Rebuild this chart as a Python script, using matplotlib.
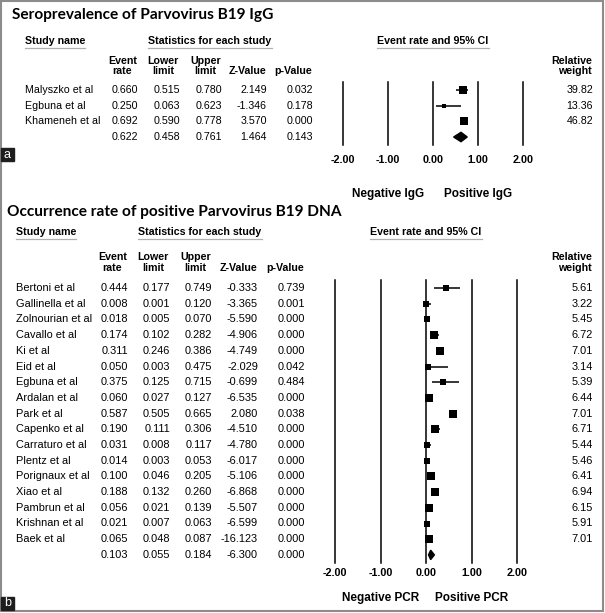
import numpy as np
import matplotlib
matplotlib.use("Agg")
import matplotlib.pyplot as plt
from matplotlib.patches import Rectangle, Polygon
from matplotlib.transforms import blended_transform_factory

plt.rcParams['font.family'] = ['Liberation Sans', 'DejaVu Sans']

# ---- data : panel a (IgG) ----
ig_names = ['Malyszko et al', 'Egbuna et al', 'Khameneh et al']
ig_rate = [0.660, 0.250, 0.692]
ig_lower = [0.515, 0.063, 0.590]
ig_upper = [0.780, 0.623, 0.778]
ig_z = [2.149, -1.346, 3.570]
ig_p = [0.032, 0.178, 0.000]
ig_weight = [39.82, 13.36, 46.82]
ig_pooled = [0.622, 0.458, 0.761, 1.464, 0.143]

# ---- data : panel b (PCR) ----
pcr_names = ['Bertoni et al', 'Gallinella et al', 'Zolnourian et al', 'Cavallo et al',
             'Ki et al', 'Eid et al', 'Egbuna et al', 'Ardalan et al', 'Park et al',
             'Capenko et al', 'Carraturo et al', 'Plentz et al', 'Porignaux et al',
             'Xiao et al', 'Pambrun et al', 'Krishnan et al', 'Baek et al']
pcr_rate = [0.444, 0.008, 0.018, 0.174, 0.311, 0.050, 0.375, 0.060, 0.587,
            0.190, 0.031, 0.014, 0.100, 0.188, 0.056, 0.021, 0.065]
pcr_lower = [0.177, 0.001, 0.005, 0.102, 0.246, 0.003, 0.125, 0.027, 0.505,
             0.111, 0.008, 0.003, 0.046, 0.132, 0.021, 0.007, 0.048]
pcr_upper = [0.749, 0.120, 0.070, 0.282, 0.386, 0.475, 0.715, 0.127, 0.665,
             0.306, 0.117, 0.053, 0.205, 0.260, 0.139, 0.063, 0.087]
pcr_z = [-0.333, -3.365, -5.590, -4.906, -4.749, -2.029, -0.699, -6.535, 2.080,
         -4.510, -4.780, -6.017, -5.106, -6.868, -5.507, -6.599, -16.123]
pcr_p = [0.739, 0.001, 0.000, 0.000, 0.000, 0.042, 0.484, 0.000, 0.038,
         0.000, 0.000, 0.000, 0.000, 0.000, 0.000, 0.000, 0.000]
pcr_weight = [5.61, 3.22, 5.45, 6.72, 7.01, 3.14, 5.39, 6.44, 7.01,
              6.71, 5.44, 5.46, 6.41, 6.94, 6.15, 5.91, 7.01]
pcr_pooled = [0.103, 0.055, 0.184, -6.300, 0.000]

ticks = [-2, -1, 0, 1, 2]
col_heads = ['Event\nrate', 'Lower\nlimit', 'Upper\nlimit', 'Z-Value', 'p-Value']

W, H = 605, 613
fig = plt.figure(figsize=(W / 100, H / 100), dpi=100)
ax = fig.add_axes([0, 0, 1, 1])
ax.set_xlim(0, W)
ax.set_ylim(H, 0)
ax.axis('off')
renderer = fig.canvas.get_renderer()

ax.add_patch(Rectangle((1, 1), 602, 610, fill=False, ec='#8c8c8c', lw=1.5))


def underline(t):
    bb = t.get_window_extent(renderer)
    inv = ax.transData.inverted()
    x0, y0 = inv.transform((bb.x0, bb.y0))
    x1, _ = inv.transform((bb.x1, bb.y0))
    ax.plot([x0, x1], [y0 + 1.5, y0 + 1.5], color='#b0b0b0', lw=0.9)


def panel(names, rate, lower, upper, z, p, weight, pooled, c):
    n = len(names)
    fs = c['fs']
    # title, fitted to the width it has in the reference
    t = ax.text(c['title_x'], c['title_y'], c['title'], family='Lato', weight='bold',
                fontsize=14, ha='left', va='center')
    bb = t.get_window_extent(renderer)
    t.set_fontsize(14 * c['title_w'] / bb.width)

    # headers
    hy = c['head_y']
    t1 = ax.text(c['name_x'], hy, 'Study name', weight='bold', fontsize=7.7, ha='left', va='center')
    t2 = ax.text(c['stats_cx'], hy, 'Statistics for each study', weight='bold', fontsize=7.7,
                 ha='center', va='center')
    for t in (t1, t2):
        underline(t)
    for lab, xr in zip(col_heads, c['cols']):
        ax.text(xr - 1, c['colhead_y'], lab, weight='bold', fontsize=7.7, ha='right',
                va='bottom', multialignment='center', linespacing=c['ls'])
    ax.text(592, c['colhead_y'], 'Relative\nweight', weight='bold', fontsize=7.7, ha='right',
            va='bottom', multialignment='right', linespacing=c['ls'])

    # table rows
    for i in range(n + 1):
        y = c['row0'] + i * c['dy']
        if i < n:
            vals = [rate[i], lower[i], upper[i], z[i], p[i]]
            ax.text(c['name_x'], y, names[i], fontsize=fs, ha='left', va='center')
            ax.text(593, y, f'{weight[i]:.2f}', fontsize=fs, ha='right', va='center')
        else:
            vals = pooled
        for v, xr in zip(vals, c['cols']):
            ax.text(xr, y, f'{v:.3f}', fontsize=fs, ha='right', va='center')

    # forest plot axes
    top = c['row0'] - 0.5 * c['dy']
    h = (n + 1) * c['dy']
    fa = fig.add_axes([c['fx0'] / W, 1 - (top + h) / H, 4 * c['unit'] / W, h / H])
    fa.patch.set_alpha(0)
    fa.set_xlim(-2, 2)
    fa.set_ylim(n + 0.5, -0.5)
    for s in fa.spines.values():
        s.set_visible(False)
    fa.set_yticks([])
    fa.set_xticks(ticks)
    fa.set_xticklabels([f'{v:.2f}' for v in ticks], fontsize=7.8, weight='bold')
    fa.tick_params(axis='x', length=0, pad=c['pad'])
    for v in ticks:
        fa.axvline(v, color='black', lw=1.1, clip_on=False)
    rows = np.arange(n)
    wmax = max(weight)
    fa.hlines(rows, lower, upper, color='black', lw=1.1)
    for i in range(n):
        fa.plot(rate[i], i, marker='s', ls='none', color='black', mew=0,
                ms=c['smax'] * 0.72 * np.sqrt(weight[i] / wmax))
    dh = 0.3
    fa.add_patch(Polygon([(pooled[1], n), (pooled[0], n - dh), (pooled[2], n), (pooled[0], n + dh)],
                         closed=True, color='black'))

    # header over forest, footers
    tr = blended_transform_factory(fa.transData, ax.transData)
    t3 = ax.text(0, hy, 'Event rate and 95% CI', weight='bold', fontsize=7.7, ha='center',
                 va='center', transform=tr)
    underline(t3)
    ax.text(-1, c['foot_y'], c['foot'][0], weight='bold', fontsize=8.5, ha='center',
            va='center', transform=tr)
    ax.text(1, c['foot_y'], c['foot'][1], weight='bold', fontsize=8.5, ha='center',
            va='center', transform=tr)

    # panel letter
    lx, ly = c['letter_xy']
    ax.add_patch(Rectangle((lx, ly), 13, 13, color='#1e1e1e'))
    ax.text(lx + 6.5, ly + 6.5, c['letter'], color='white', fontsize=9, ha='center', va='center')


panel(ig_names, ig_rate, ig_lower, ig_upper, ig_z, ig_p, ig_weight, ig_pooled,
      dict(title='Seroprevalence of Parvovirus B19 IgG', title_x=12, title_y=15, title_w=262,
           head_y=41, name_x=25, stats_cx=210, cols=[138, 180, 222, 267, 313],
           colhead_y=76, ls=0.95, row0=90, dy=15.67, fs=7.7,
           fx0=343, unit=45, pad=7, smax=8.5, foot_y=194, foot=('Negative IgG', 'Positive IgG'),
           letter='a', letter_xy=(1, 148)))

panel(pcr_names, pcr_rate, pcr_lower, pcr_upper, pcr_z, pcr_p, pcr_weight, pcr_pooled,
      dict(title='Occurrence rate of positive Parvovirus B19 DNA', title_x=7, title_y=212, title_w=334,
           head_y=232, name_x=16, stats_cx=200, cols=[128, 170, 212, 258, 305],
           colhead_y=273, ls=1.1, row0=288, dy=15.7, fs=7.9,
           fx0=335, unit=45.5, pad=3.5, smax=7.5, foot_y=598, foot=('Negative PCR', 'Positive PCR'),
           letter='b', letter_xy=(1, 597)))

fig.savefig('out.png', dpi=100)
